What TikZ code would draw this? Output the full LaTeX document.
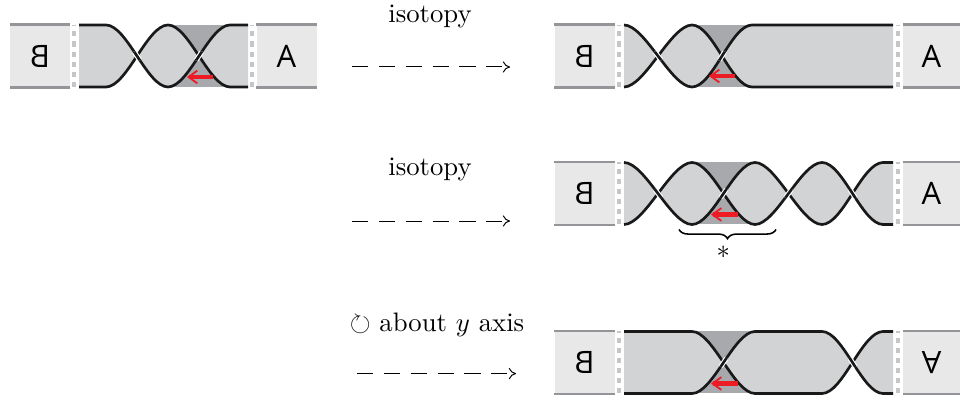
\documentclass[tikz,border=0pt]{standalone}
\usepackage{amssymb}
\usepackage{fontspec}
\newfontfamily\boxfont{Open Sans}
\usetikzlibrary{calc,arrows.meta,decorations.pathreplacing}
\definecolor{bandgray}{HTML}{D1D3D4}
\definecolor{darkgray}{HTML}{A7A9AC}
\definecolor{boxgray}{HTML}{E8E8E9}
\definecolor{bargray}{HTML}{939598}
\definecolor{seamgray}{HTML}{C4C6C8}
\definecolor{arrowred}{HTML}{ED1C24}
\def\h{.775}
\tikzset{
  twist/.style={to path={.. controls ($(\tikztostart)+(.52,0)$) and ($(\tikztotarget)-(.52,0)$) .. (\tikztotarget)}},
  strand/.style={line width=1.9pt,draw=black!90},
  halo/.style={line width=3.5pt,draw=white},
  seam/.style={line width=2.3pt,draw=seamgray,dash pattern=on 3.6pt off 3.6pt},
  bar/.style={line width=1.8pt,draw=bargray},
  flag/.style={fill=boxgray,minimum height=1.55cm,minimum width=1.5cm,inner sep=0pt,font=\boxfont\fontsize{22}{24}\selectfont},
  redarrow/.style={line width=2.9pt,draw=arrowred,-{Straight Barb[length=2.2mm,width=3.2mm,line width=1.3pt]}},
  lab/.style={scale=1.9},
  move/.style={line width=.7pt,dash pattern=on 11.5pt off 7.6pt,-{To[length=1.8mm,width=2.8mm]}},
}
% both strands of a band, with the fill under them
\newcommand{\band}[3]{
  \foreach \s in {1,-1}{\begin{scope}[yscale=\s]\fill[bandgray] (#1,0) -- (#1,\h) #2 -- (#3,0) -- cycle;\end{scope}}
  \draw[bandgray,line width=.8pt] (#1,0) -- (#3,0);
  \foreach \s in {1,-1}{\begin{scope}[yscale=\s]\draw[strand] (#1,\h) #2;\end{scope}}
}
% strand on top at a crossing
\newcommand{\crossover}[3]{
  \begin{scope}
    \clip ($(#1,0)!.5!(#2,0)$) circle (.14);
    \draw[halo,yscale=#3] (#1,\h) to[twist] (#2,-\h);
    \draw[strand,yscale=#3] (#1,\h) to[twist] (#2,-\h);
  \end{scope}
}
\begin{document}
\begin{tikzpicture}[line cap=butt]
  \useasboundingbox (0,0) rectangle (24,10);

  % first row, left
  \begin{scope}[shift={(0,8.6)}]
    \node[flag,xscale=-1] (ba) at (1,0) {B};
    \node[flag] (aa) at (7.1625,0) {A};
    \fill[darkgray] (4.2,-\h) rectangle (5.75,\h);
    \band{1.975}{-- (2.65,\h) to[twist] (4.2,-\h) to[twist] (5.75,\h) -- (6.2,\h)}{6.2}
    \crossover{2.65}{4.2}{1}
    \crossover{4.2}{5.75}{-1}
    \coordinate (ra0) at (5.325,-.525);
    \coordinate (ra1) at (4.675,-.525);
    \draw[redarrow] (ra0) -- (ra1);
    \foreach \x in {1.85,6.3} {\draw[seam] (\x,-\h) -- (\x,\h);}
  \end{scope}

  % first row, right
  \begin{scope}[shift={(0,8.6)}]
    \node[flag,xscale=-1] (bb) at (14.6125,0) {B};
    \node[flag,minimum width=1.425cm] (ab) at (23.2875,0) {A};
    \fill[darkgray] (17.3,-\h) rectangle (18.8,\h);
    \band{15.6}{to[twist] (17.3,-\h) to[twist] (18.8,\h) -- (22.325,\h)}{22.325}
    \crossover{15.6}{17.3}{1}
    \crossover{17.3}{18.8}{-1}
    \coordinate (rb0) at (18.375,-.5);
    \coordinate (rb1) at (17.725,-.5);
    \draw[redarrow] (rb0) -- (rb1);
    \foreach \x in {15.475,22.45} {\draw[seam] (\x,-\h) -- (\x,\h);}
  \end{scope}

  % second row
  \begin{scope}[shift={(0,5.1625)}]
    \node[flag,xscale=-1] (bc) at (14.6125,0) {B};
    \node[flag,minimum width=1.425cm] (ac) at (23.2875,0) {A};
    \fill[darkgray] (17.3,-\h) rectangle (18.875,\h);
    \band{15.6}{to[twist] (17.3,-\h) to[twist] (18.875,\h) to[twist] (20.55,-\h) to[twist] (22.075,\h) -- (22.325,\h)}{22.325}
    \crossover{15.6}{17.3}{1}
    \crossover{17.3}{18.875}{-1}
    \crossover{18.875}{20.55}{-1}
    \crossover{20.55}{22.075}{1}
    \coordinate (rc0) at (18.45,-.525);
    \coordinate (rc1) at (17.775,-.525);
    \draw[redarrow] (rc0) -- (rc1);
    \foreach \x in {15.475,22.45} {\draw[seam] (\x,-\h) -- (\x,\h);}
    \coordinate (br0) at (16.975,-.9);
    \coordinate (br1) at (19.4,-.9);
    \draw[line width=1.1pt,decorate,decoration={brace,mirror,amplitude=6.5pt}] (br0) -- (br1);
    \node[lab] (star) at (18.08,-1.47) {$*$};
  \end{scope}

  % third row
  \begin{scope}[shift={(0,.9375)}]
    \node[flag,xscale=-1] (bd) at (14.6125,0) {B};
    \node[flag,minimum width=1.425cm,rotate=180] (ad) at (23.2875,0) {A};
    \fill[darkgray] (17.3,-\h) rectangle (18.875,\h);
    \band{15.6}{-- (17.3,\h) to[twist] (18.875,-\h) -- (20.55,-\h) to[twist] (22.075,\h) -- (22.325,\h)}{22.325}
    \crossover{17.3}{18.875}{-1}
    \crossover{20.55}{22.075}{1}
    \coordinate (rd0) at (18.45,-.525);
    \coordinate (rd1) at (17.775,-.525);
    \draw[redarrow] (rd0) -- (rd1);
    \foreach \x in {15.475,22.45} {\draw[seam] (\x,-\h) -- (\x,\h);}
  \end{scope}

  \foreach \n in {ba,aa,bb,ab,bc,ac,bd,ad} {
    \draw[bar] (\n.north west) -- (\n.north east);
    \draw[bar] (\n.south west) -- (\n.south east);
  }

  % labels and moves
  \node[lab] (isoa) at (10.75,9.6) {isotopy};
  \node[lab] (isob) at (10.75,5.76) {isotopy};
  \node[lab] (spin) at (10.925,1.89) {$\circlearrowright$ about $y$ axis};
  \coordinate (ma0) at (8.8,8.325);
  \coordinate (ma1) at (12.75,8.325);
  \coordinate (mb0) at (8.8,4.475);
  \coordinate (mb1) at (12.75,4.475);
  \coordinate (mc0) at (8.925,.66);
  \coordinate (mc1) at (12.9,.66);
  \draw[move] (ma0) -- (ma1);
  \draw[move] (mb0) -- (mb1);
  \draw[move] (mc0) -- (mc1);
\end{tikzpicture}
\end{document}
